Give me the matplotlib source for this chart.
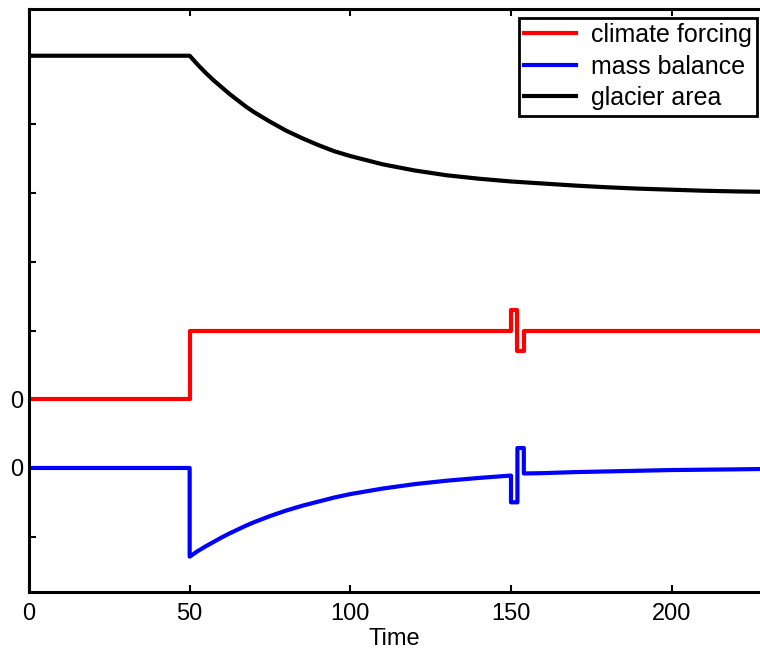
import matplotlib
matplotlib.use("Agg")
import matplotlib.pyplot as plt

plt.rcParams['font.family'] = ['Liberation Sans', 'DejaVu Sans']

# ---- data ----
forcing_time = [0, 50, 150, 152, 154, 228]
forcing = [0.0, 1.0, 1.3, 0.7, 1.0, 1.0]          # step values (post)
forcing_offset = 1.0

mb_time = [0, 50, 50, 52.5, 55, 57.5, 60, 62.5, 65, 67.5, 70, 75, 80, 85, 90,
           95, 100, 110, 120, 130, 140, 150,
           150, 152, 152, 154, 154, 160, 170, 180, 190, 200, 210, 220, 228]
mass_balance = [0, 0, -1.29, -1.21, -1.14, -1.075, -1.01, -0.95, -0.895, -0.84,
                -0.79, -0.70, -0.62, -0.55, -0.49, -0.43, -0.38, -0.30, -0.235,
                -0.185, -0.145, -0.11,
                -0.50, -0.50, 0.29, 0.29, -0.08, -0.075, -0.06, -0.05, -0.04,
                -0.03, -0.025, -0.02, -0.015]
mb_offset = 0.0

area_time = [0, 50, 52.5, 55, 57.5, 60, 62.5, 65, 67.5, 70, 75, 80, 85, 90, 95,
             100, 110, 120, 130, 140, 150, 160, 170, 180, 190, 200, 210, 220, 228]
glacier_area = [6.0, 6.0, 5.87, 5.75, 5.64, 5.54, 5.44, 5.35, 5.26, 5.18, 5.04,
                4.91, 4.80, 4.70, 4.61, 4.54, 4.42, 4.33, 4.26, 4.21, 4.17, 4.14,
                4.11, 4.085, 4.065, 4.05, 4.035, 4.025, 4.02]

xticks = [0, 50, 100, 150, 200]
yticks = [-1, 0, 1, 2, 3, 4, 5, 6]
ytick_labels = ['', '0', '0', '', '', '', '', '']

# ---- figure ----
fig = plt.figure(figsize=(7.6, 6.58), dpi=100)
ax = fig.add_axes([29/760, 66/658, 731/760, 583/658])

lw = 3.0
ax.step(forcing_time, [v + forcing_offset for v in forcing], where='post',
        color='#ff0000', lw=lw, label='climate forcing', solid_joinstyle='round')
ax.plot(mb_time, [v + mb_offset for v in mass_balance], color='#0000ff', lw=lw,
        label='mass balance', solid_joinstyle='round')
ax.plot(area_time, glacier_area, color='black', lw=lw, label='glacier area',
        solid_joinstyle='round')

ax.set_xlim(0, 227.5)
ax.set_ylim(-1.805, 6.68)
ax.set_xticks(xticks)
ax.set_yticks(yticks)
ax.set_yticklabels(ytick_labels)

for s in ['left', 'bottom', 'top']:
    ax.spines[s].set_linewidth(2.2)
ax.spines['right'].set_visible(False)
ax.tick_params(direction='in', length=5, width=1.5, labelsize=17, top=True,
               right=False)
ax.tick_params(axis='x', pad=8)
ax.tick_params(axis='y', pad=4)
ax.set_xlabel('Time', fontsize=17, labelpad=2)

leg = ax.legend(loc='upper right', bbox_to_anchor=(0.996, 0.985),
                borderaxespad=0, fontsize=18, handlelength=2.05,
                handletextpad=0.6, labelspacing=0.3, borderpad=0.22,
                fancybox=False, framealpha=1, edgecolor='black')
leg.get_frame().set_linewidth(2.0)

fig.savefig('out.png', dpi=100)
